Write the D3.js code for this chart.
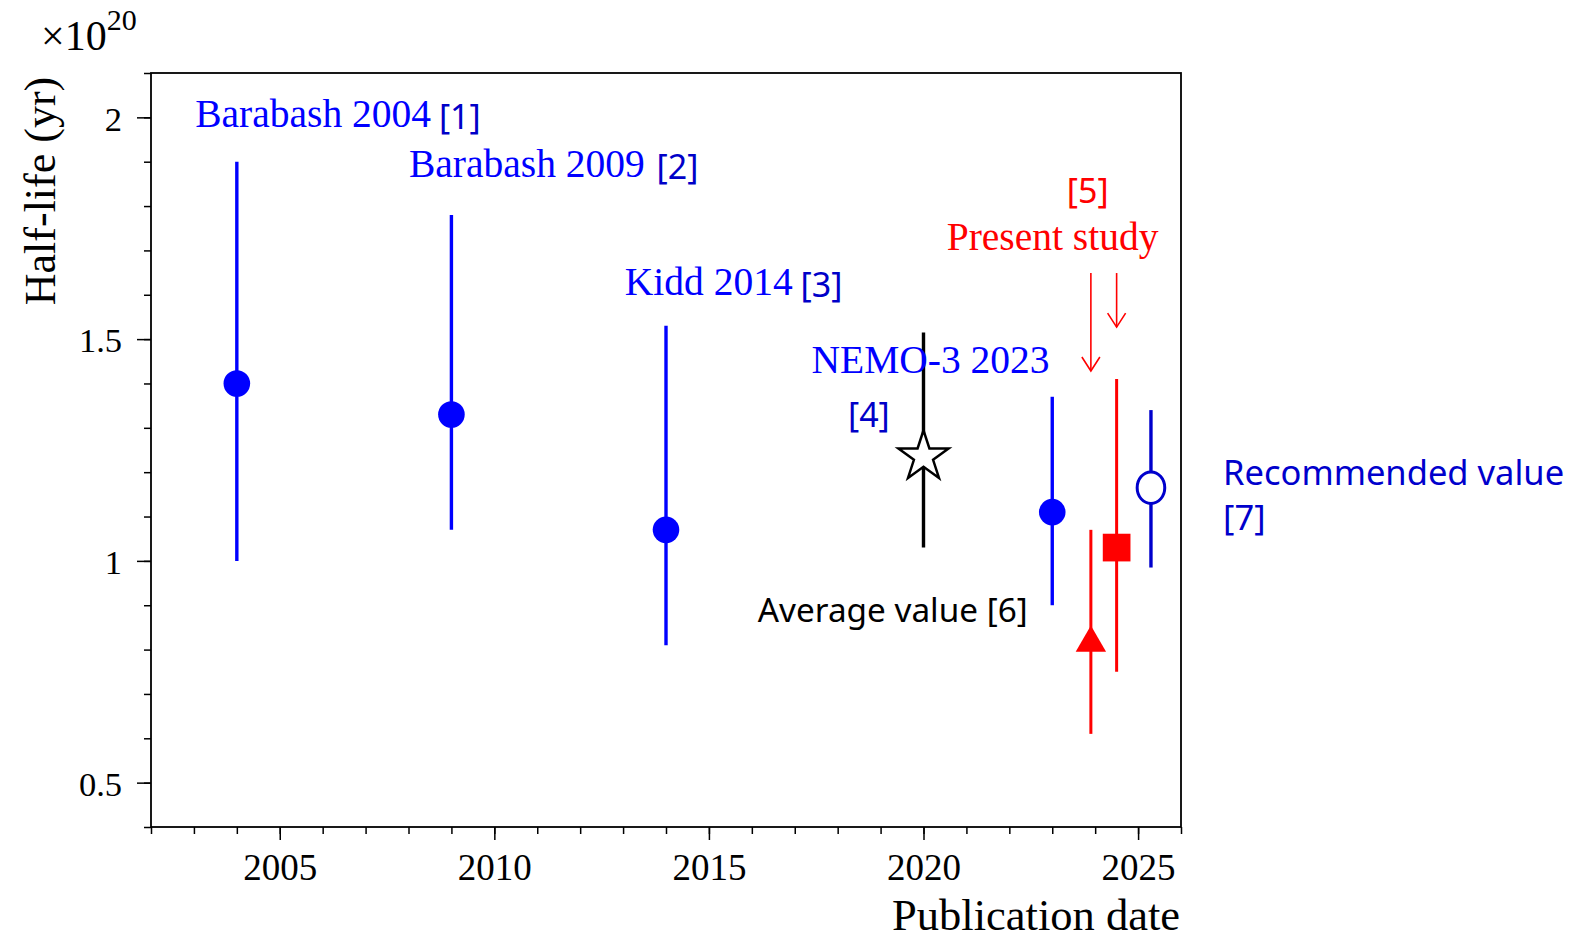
<!DOCTYPE html>
<html>
<head>
<meta charset="utf-8">
<script src="https://cdn.jsdelivr.net/npm/d3@7"></script>
<style>
  body { margin: 0; background: #fff; }
  svg text { font-family: "Liberation Serif", "Times New Roman", serif; }
  .sans { font-family: "Noto Sans", "Open Sans", sans-serif; }
</style>
</head>
<body>
<svg id="chart" width="1591" height="942"></svg>
<script>
// publication year of each result
const years = [2004, 2009, 2014, 2020, 2023, 2023.9, 2024.5, 2025.3];
// half-life in units of 1e20 yr, with lower / upper error limits
const halfLife = [1.40, 1.33, 1.07, 1.235, 1.11, 0.815, 1.03, 1.165];
const errLow = [1.00, 1.07, 0.81, 1.03, 0.90, 0.61, 0.75, 0.985];
const errHigh = [1.90, 1.78, 1.53, 1.515, 1.37, 1.07, 1.41, 1.34];
const symbols = ["circle", "circle", "circle", "star", "circle", "triangle", "square", "open"];
const colors = ["#0000ff", "#0000ff", "#0000ff", "#000000", "#0000ff", "#ff0000", "#ff0000", "#0000cc"];

const xMajor = [2005, 2010, 2015, 2020, 2025];
const yMajor = [0.5, 1, 1.5, 2];

// the two red arrows point at the present-study results
const arrowYears = [2023.9, 2024.5];
const arrowTop = [1.649, 1.649];
const arrowTip = [1.428, 1.527];

// text labels, placed in data units
const labels = [
  {text: "Barabash 2004", ref: "[1]", gap: -1, x: 2003.03, y: 1.979, color: "#0000ff"},
  {text: "Barabash 2009", ref: "[2]", gap: 3, x: 2008.01, y: 1.866, color: "#0000ff"},
  {text: "Kidd 2014", ref: "[3]", gap: -1, x: 2013.04, y: 1.599, color: "#0000ff"},
  {text: "NEMO-3 2023", ref: "", x: 2017.39, y: 1.423, color: "#0000ff"},
  {text: "Present study", ref: "", x: 2020.54, y: 1.701, color: "#ff0000"}
];
const sansLabels = [
  {text: "[4]", x: 2018.24, y: 1.302, color: "#0000c8", size: 34},
  {text: "[5]", x: 2023.34, y: 1.806, color: "#ff0000", size: 34},
  {text: "Average value [6]", x: 2016.14, y: 0.863, color: "#000000", size: 33.3},
  {text: "Recommended value", x: 2026.98, y: 1.170, color: "#0000cc", size: 34.5},
  {text: "[7]", x: 2026.98, y: 1.070, color: "#0000cc", size: 34.5}
];

const svg = d3.select("#chart");
svg.append("rect").attr("width", 1591).attr("height", 942).attr("fill", "#fff");

const plotLeft = 151, plotRight = 1181, plotTop = 73, plotBottom = 827;
const x = d3.scaleLinear().domain([2002, 2026]).range([plotLeft, plotRight]);
const y = d3.scaleLinear().domain([0.4, 2.1]).range([plotBottom, plotTop]);

// axes
const xMinor = svg.append("g").attr("transform", `translate(0,${plotBottom})`)
  .call(d3.axisBottom(x).tickValues(d3.range(2002, 2027)).tickSize(7).tickFormat(""));
const xAx = svg.append("g").attr("transform", `translate(0,${plotBottom})`)
  .call(d3.axisBottom(x).tickValues(xMajor).tickSize(13).tickPadding(14).tickFormat(d3.format("d")));
const yMinor = svg.append("g").attr("transform", `translate(${plotLeft},0)`)
  .call(d3.axisLeft(y).tickValues(d3.range(4, 22).map(d => d / 10)).tickSize(7).tickFormat(""));
const yAx = svg.append("g").attr("transform", `translate(${plotLeft},0)`)
  .call(d3.axisLeft(y).tickValues(yMajor).tickSize(14).tickPadding(15).tickFormat(d => d));

[xMinor, xAx, yMinor, yAx].forEach(g => {
  g.select(".domain").remove();
  g.selectAll("line").attr("stroke", "#000").attr("stroke-width", 1.5);
});
xAx.selectAll("text").attr("font-size", 37).attr("fill", "#000")
  .style("font-family", "'Liberation Serif', serif");
yAx.selectAll("text").attr("font-size", 34.5).attr("fill", "#000").attr("dy", "0.37em")
  .style("font-family", "'Liberation Serif', serif");

svg.append("rect")
  .attr("x", plotLeft).attr("y", plotTop)
  .attr("width", plotRight - plotLeft).attr("height", plotBottom - plotTop)
  .attr("fill", "none").attr("stroke", "#000").attr("stroke-width", 1.8);

// axis titles
svg.append("text")
  .attr("transform", "translate(55,191) rotate(-90)")
  .attr("text-anchor", "middle").attr("font-size", 44)
  .text("Half-life (yr)");
svg.append("text")
  .attr("x", 1180).attr("y", 930)
  .attr("text-anchor", "end").attr("font-size", 44.5)
  .text("Publication date");

const mult = svg.append("text").attr("x", 41).attr("y", 50).attr("font-size", 42);
mult.append("tspan").text("\u00d710");
mult.append("tspan").attr("font-size", 30).attr("dy", -20).text("20");

// error bars
const pts = years.map((yr, i) => ({
  yr, v: halfLife[i], lo: errLow[i], hi: errHigh[i], sym: symbols[i], color: colors[i]
}));

svg.append("g").selectAll("line").data(pts).join("line")
  .attr("x1", d => x(d.yr)).attr("x2", d => x(d.yr))
  .attr("y1", d => y(d.lo)).attr("y2", d => y(d.hi))
  .attr("stroke", d => d.color)
  .attr("stroke-width", d => d.sym === "triangle" || d.sym === "square" ? 3 : 3.4);

// markers
const mk = svg.append("g");
pts.forEach(d => {
  const cx = x(d.yr), cy = y(d.v);
  if (d.sym === "circle") {
    mk.append("circle").attr("cx", cx).attr("cy", cy).attr("r", 13.3).attr("fill", d.color);
  } else if (d.sym === "open") {
    mk.append("ellipse").attr("cx", cx).attr("cy", cy).attr("rx", 13.8).attr("ry", 15.8)
      .attr("fill", "#fff").attr("stroke", d.color).attr("stroke-width", 3);
  } else if (d.sym === "star") {
    mk.append("path").attr("transform", `translate(${cx},${cy})`)
      .attr("d", d3.symbol(d3.symbolStar).size(780)())
      .attr("fill", "#fff").attr("stroke", d.color).attr("stroke-width", 2.5)
      .attr("stroke-linejoin", "miter");
  } else if (d.sym === "triangle") {
    mk.append("path").attr("transform", `translate(${cx},${cy})`)
      .attr("d", d3.symbol(d3.symbolTriangle).size(400)())
      .attr("fill", d.color);
  } else if (d.sym === "square") {
    mk.append("path").attr("transform", `translate(${cx},${cy})`)
      .attr("d", d3.symbol(d3.symbolSquare).size(767)())
      .attr("fill", d.color);
  }
});

// red arrows
const ar = svg.append("g").attr("stroke", "#ff0000").attr("stroke-width", 1.6).attr("fill", "none");
arrowYears.forEach((yr, i) => {
  const ax = x(yr), y0 = y(arrowTop[i]), y1 = y(arrowTip[i]);
  ar.append("line").attr("x1", ax).attr("x2", ax).attr("y1", y0).attr("y2", y1);
  ar.append("path").attr("d", `M${ax - 9},${y1 - 14}L${ax},${y1}L${ax + 9},${y1 - 14}`);
});

// labels
labels.forEach(l => {
  const t = svg.append("text").attr("x", x(l.x)).attr("y", y(l.y))
    .attr("font-size", 39.5).attr("fill", l.color);
  t.append("tspan").text(l.text);
  if (l.ref) {
    t.append("tspan").attr("class", "sans").attr("font-size", 34).attr("fill", "#0000c8")
      .attr("dx", l.gap).attr("dy", 2)
      .text(" " + l.ref);
  }
});
sansLabels.forEach(l => {
  svg.append("text").attr("class", "sans")
    .attr("x", x(l.x)).attr("y", y(l.y))
    .attr("font-size", l.size).attr("fill", l.color)
    .text(l.text);
});
</script>
</body>
</html>
